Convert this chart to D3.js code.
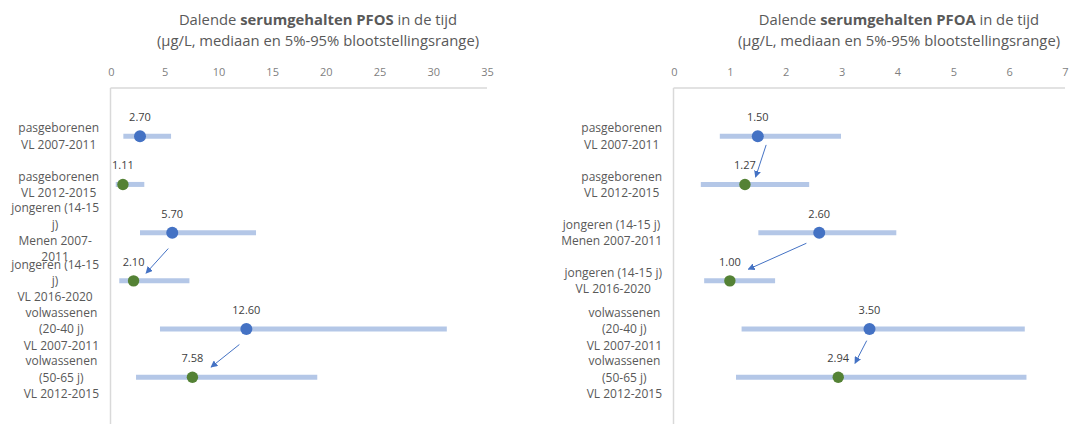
<!DOCTYPE html>
<html>
<head>
<meta charset="utf-8">
<script src="https://cdn.jsdelivr.net/npm/d3@7"></script>
<style>
  html, body { margin: 0; padding: 0; background: #ffffff; }
  svg { display: block; font-family: "Open Sans", "Noto Sans", sans-serif; }
</style>
</head>
<body>
<svg id="chart" width="1069" height="424"></svg>
<script>
// ---------------- DATA ----------------
const categoriesPFOS = [
  "pasgeborenen\nVL 2007-2011",
  "pasgeborenen\nVL 2012-2015",
  "jongeren (14-15\nj)\nMenen 2007-\n2011",
  "jongeren (14-15\nj)\nVL 2016-2020",
  "volwassenen\n(20-40 j)\nVL 2007-2011",
  "volwassenen\n(50-65 j)\nVL 2012-2015"
];
const categoriesPFOA = [
  "pasgeborenen\nVL 2007-2011",
  "pasgeborenen\nVL 2012-2015",
  "jongeren (14-15 j)\nMenen 2007-2011",
  "jongeren (14-15 j)\nVL 2016-2020",
  "volwassenen\n(20-40 j)\nVL 2007-2011",
  "volwassenen\n(50-65 j)\nVL 2012-2015"
];
const periodType = ["oud", "nieuw", "oud", "nieuw", "oud", "nieuw"];

const pfosMedian = [2.70, 1.11, 5.70, 2.10, 12.60, 7.58];
const pfosLow    = [1.15, 0.44, 2.70, 0.77, 4.56, 2.33];
const pfosHigh   = [5.59, 3.10, 13.50, 7.30, 31.26, 19.20];

const pfoaMedian = [1.50, 1.27, 2.60, 1.00, 3.50, 2.94];
const pfoaLow    = [0.82, 0.48, 1.51, 0.54, 1.21, 1.11];
const pfoaHigh   = [2.99, 2.42, 3.98, 1.81, 6.28, 6.31];

const pfosTicks = [0, 5, 10, 15, 20, 25, 30, 35];
const pfoaTicks = [0, 1, 2, 3, 4, 5, 6, 7];

// arrows (in data units: [value, row position])
const pfosArrows = [
  { from: [5.33, 3.33], to: [3.26, 3.84] },
  { from: [11.95, 5.32], to: [9.31, 5.79] }
];
const pfoaArrows = [
  { from: [1.65, 1.18], to: [1.46, 1.85] },
  { from: [2.37, 3.22], to: [1.33, 3.76] },
  { from: [3.45, 5.24], to: [3.24, 5.71] }
];

const titlePFOS = ["Dalende ", "serumgehalten PFOS", " in de tijd"];
const titlePFOA = ["Dalende ", "serumgehalten PFOA", " in de tijd"];
const subtitle = "(µg/L, mediaan en 5%-95% blootstellingsrange)";

// ---------------- DRAW ----------------
const svg = d3.select("#chart");
const colors = { oud: "#4472c4", nieuw: "#548235" };

svg.append("defs").append("marker")
  .attr("id", "arrowhead")
  .attr("viewBox", "0 0 10 10")
  .attr("refX", 9).attr("refY", 5)
  .attr("markerWidth", 7).attr("markerHeight", 7)
  .attr("markerUnits", "userSpaceOnUse")
  .attr("orient", "auto")
  .append("path").attr("d", "M0,0 L10,5 L0,10 Z").attr("fill", "#4472c4");

function drawPanel(opts) {
  const g = svg.append("g");
  const x = d3.scaleLinear().domain([opts.ticks[0], opts.ticks[opts.ticks.length - 1]]).range(opts.xRange);
  const y = d3.scaleLinear().domain([0, 7]).range([88, 425.5]);

  // title
  const t1 = g.append("text").attr("x", opts.titleX).attr("y", 25)
    .attr("text-anchor", "middle").attr("font-size", 14.8).attr("fill", "#595959");
  t1.append("tspan").text(opts.title[0]);
  t1.append("tspan").attr("font-weight", "bold").text(opts.title[1]);
  t1.append("tspan").text(opts.title[2]);
  g.append("text").attr("x", opts.titleX).attr("y", 46)
    .attr("text-anchor", "middle").attr("font-size", 14.8).attr("fill", "#595959")
    .text(subtitle);

  // top axis (labels only)
  const axis = d3.axisTop(x).tickValues(opts.ticks).tickFormat(d3.format("d")).tickSize(0).tickPadding(0);
  const ag = g.append("g").attr("transform", "translate(0,76)").call(axis);
  ag.select(".domain").remove();
  ag.selectAll("text").attr("font-size", 11).attr("fill", "#7f7f7f")
    .attr("font-family", "\"Open Sans\", sans-serif").attr("dy", 0);

  // frame
  g.append("line").attr("x1", x(0) - 0.5).attr("x2", opts.xRange[1]).attr("y1", 88).attr("y2", 88)
    .attr("stroke", "#d9d9d9").attr("stroke-width", 1.5);
  g.append("line").attr("x1", x(0) - 0.5).attr("x2", x(0) - 0.5).attr("y1", 88).attr("y2", 424)
    .attr("stroke", "#d9d9d9").attr("stroke-width", 1.5);

  const rows = opts.median.map((m, i) => ({
    i, m, lo: opts.low[i], hi: opts.high[i], type: periodType[i], label: opts.categories[i]
  }));

  // range bars
  g.selectAll(".range").data(rows).enter().append("line")
    .attr("x1", d => x(d.lo)).attr("x2", d => x(d.hi))
    .attr("y1", d => y(d.i + 1)).attr("y2", d => y(d.i + 1))
    .attr("stroke", "#b4c7e7").attr("stroke-width", 5).attr("stroke-linecap", "butt");

  // arrows
  g.selectAll(".arrow").data(opts.arrows).enter().append("line")
    .attr("x1", d => x(d.from[0])).attr("y1", d => y(d.from[1]))
    .attr("x2", d => x(d.to[0])).attr("y2", d => y(d.to[1]))
    .attr("stroke", "#4472c4").attr("stroke-width", 1)
    .attr("marker-end", "url(#arrowhead)");

  // points
  g.selectAll(".pt").data(rows).enter().append("circle")
    .attr("cx", d => x(d.m)).attr("cy", d => y(d.i + 1))
    .attr("r", d => d.type === "oud" ? 6 : 5.7)
    .attr("fill", d => colors[d.type]);

  // value labels
  g.selectAll(".val").data(rows).enter().append("text")
    .attr("x", d => x(d.m)).attr("y", d => y(d.i + 1) - 15)
    .attr("text-anchor", "middle").attr("font-size", 11).attr("fill", "#404040")
    .text(d => d.m.toFixed(2));

  // category labels
  const lh = 16.3;
  rows.forEach(d => {
    const lines = d.label.split("\n");
    const tg = g.append("text").attr("font-size", 12).attr("fill", "#595959").attr("text-anchor", "middle");
    const spans = lines.map((ln, k) => tg.append("tspan")
      .attr("y", y(d.i + 1) + (k - (lines.length - 1) / 2) * lh + 4.3)
      .text(ln));
    const maxW = d3.max(spans, s => s.node().getComputedTextLength());
    spans.forEach(s => s.attr("x", opts.labelRight - maxW / 2));
  });
}

drawPanel({
  xRange: [111, 487], ticks: pfosTicks, median: pfosMedian, low: pfosLow, high: pfosHigh,
  categories: categoriesPFOS, arrows: pfosArrows, title: titlePFOS, titleX: 318, labelRight: 99
});
drawPanel({
  xRange: [674, 1065], ticks: pfoaTicks, median: pfoaMedian, low: pfoaLow, high: pfoaHigh,
  categories: categoriesPFOA, arrows: pfoaArrows, title: titlePFOA, titleX: 899, labelRight: 662
});
</script>
</body>
</html>
